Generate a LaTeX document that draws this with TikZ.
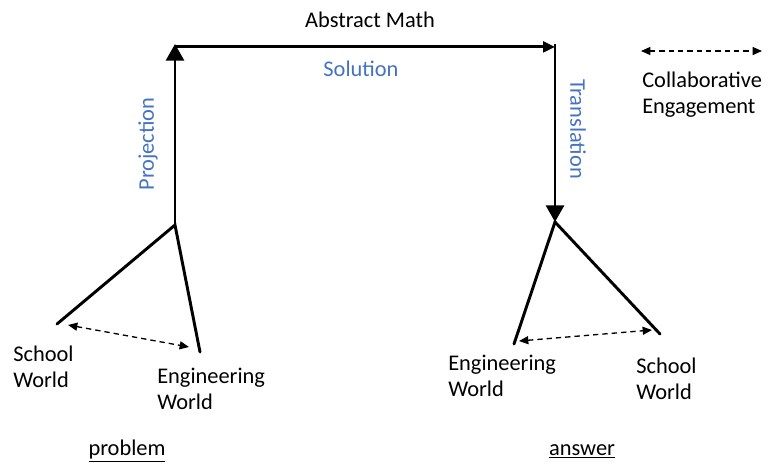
\documentclass[tikz,border=0pt]{standalone}
\usepackage{fontspec}
\setmainfont{Carlito}
\usetikzlibrary{arrows.meta}
\definecolor{lblue}{HTML}{4472C4}
\begin{document}
\begin{tikzpicture}[x=0.75pt,y=-0.75pt,
  every node/.style={font=\fontsize{16.8}{19.5}\selectfont, inner sep=0pt},
  main/.style={line width=2.2pt},
  bigtip/.style={-{Triangle[length=12.5pt,width=13.5pt]}},
  midtip/.style={-{Triangle[length=9pt,width=8pt]}},
  collab/.style={dashed, line width=1pt, dash pattern=on 4pt off 3pt, {Triangle[length=7pt,width=6pt]}-{Triangle[length=7pt,width=6pt]}},
  blue/.style={text=lblue},
  lab/.style={align=left, anchor=west}]
\useasboundingbox (0,0) rectangle (775,464);
% key points
\coordinate (jl) at (175,225);
\coordinate (tl) at (175,44);
\coordinate (tr) at (555,44);
\coordinate (jr) at (555,222);
\coordinate (lsw) at (57,324);
\coordinate (lew) at (200,352);
\coordinate (rew) at (514,344);
\coordinate (rsw) at (660,334);
% main lines
\draw[main,bigtip] (jl) -- (tl);
\draw[main,midtip] ([yshift=-2.2]tl) -- ([yshift=-2.2]tr);
\draw[main,bigtip] (tr) -- (jr);
\draw[main,line cap=round] (lsw) -- (jl) -- (lew);
\draw[main,line cap=round] (rew) -- (jr) -- (rsw);
% collaborative engagement arrows
\coordinate (la) at (68,325);
\coordinate (lb) at (189,347);
\coordinate (ra) at (519,341);
\coordinate (rb) at (652,330);
\coordinate (ga) at (641,51);
\coordinate (gb) at (762,51);
\draw[collab] (la) -- (lb);
\draw[collab] (ra) -- (rb);
\draw[collab] (ga) -- (gb);
% labels
\node (am) at (370,20) {Abstract Math};
\node[blue] (sol) at (361,69) {Solution};
\node[blue,rotate=90] (proj) at (148,144) {Projection};
\node[blue,rotate=-90] (trans) at (578,129) {Translation};
\node[lab] (ce) at (642,95) {Collaborative\\Engagement};
\node[lab] (sl) at (13,367) {School\\World};
\node[lab] (el) at (157,389) {Engineering\\World};
\node[lab] (er) at (448,376) {Engineering\\World};
\node[lab] (sr) at (636,379) {School\\World};
\node (pb) at (127,451) {\underline{problem}};
\node (an) at (582,451) {\underline{answer}};
\end{tikzpicture}
\end{document}
